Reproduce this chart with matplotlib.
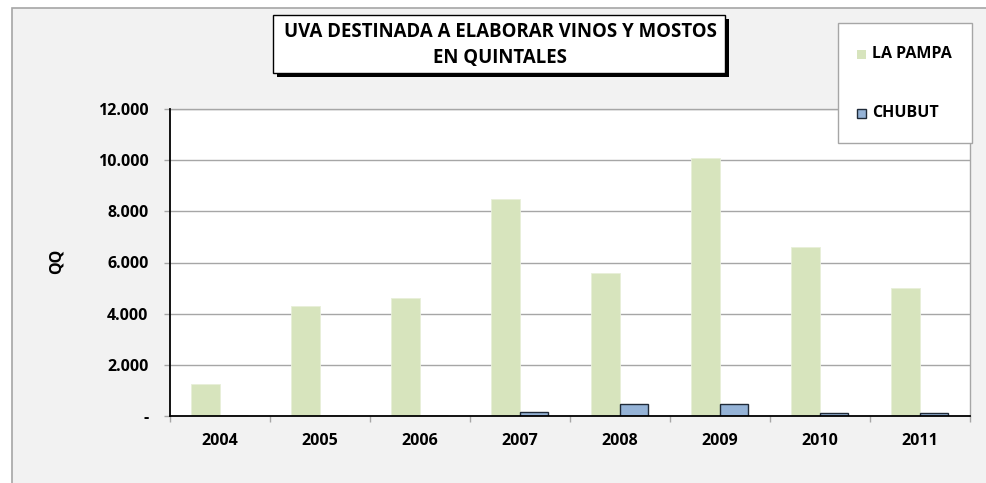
import matplotlib
matplotlib.use("Agg")
import matplotlib.pyplot as plt
from matplotlib.patches import Rectangle
import numpy as np

years = ["2004", "2005", "2006", "2007", "2008", "2009", "2010", "2011"]
la_pampa = [1250, 4300, 4600, 8500, 5600, 10100, 6600, 5000]
chubut = [0, 0, 0, 170, 470, 470, 100, 100]
series_names = ["LA PAMPA", "CHUBUT"]
y_ticks = [0, 2000, 4000, 6000, 8000, 10000, 12000]
y_tick_labels = ["-", "2.000", "4.000", "6.000", "8.000", "10.000", "12.000"]
title_lines = ["UVA DESTINADA A ELABORAR VINOS Y MOSTOS", "EN QUINTALES"]
y_label = "QQ"

W, H = 987, 483
plt.rcParams["font.family"] = ["Open Sans", "DejaVu Sans"]
plt.rcParams["font.weight"] = "bold"

fig = plt.figure(figsize=(W / 100, H / 100), dpi=100)
fig.patch.set_facecolor("white")

# chart area background (pixel coordinates, origin top-left)
bg = fig.add_axes([0, 0, 1, 1], zorder=0)
bg.set_xlim(0, W)
bg.set_ylim(H, 0)
bg.axis("off")
bg.add_patch(Rectangle((12, 8), W + 20, H + 20, facecolor="#f2f2f2",
                       edgecolor="#a6a6a6", linewidth=1.2))

# plot area
px_left, px_top, px_right, px_bottom = 170, 109, 970, 416
ax = fig.add_axes([px_left / W, 1 - px_bottom / H,
                   (px_right - px_left) / W, (px_bottom - px_top) / H], zorder=1)
ax.set_facecolor("white")

x = np.arange(len(years))
bw = 0.285
ax.bar(x - bw / 2, la_pampa, width=bw, color="#d7e4bd", edgecolor="#e8efd9",
       linewidth=0.6, zorder=3)
ax.bar(x + bw / 2, chubut, width=bw, color="#95b3d7", edgecolor="#1f2a38",
       linewidth=1.0, zorder=3)

tick_font = dict(fontsize=11.5, fontweight="bold")
ax.set_xlim(-0.5, len(years) - 0.5)
ax.set_ylim(0, 12000)
ax.set_yticks(y_ticks)
ax.set_yticklabels(y_tick_labels, **tick_font)
ax.yaxis.grid(True, color="#a6a6a6", linewidth=1.0, zorder=0)
ax.set_axisbelow(True)

ax.set_xticks(np.arange(-0.5, len(years), 1.0))
ax.set_xticklabels([])
ax.set_xticks(x, minor=True)
ax.set_xticklabels(years, minor=True, **tick_font)
ax.tick_params(axis="x", which="major", direction="out", length=4, color="#a6a6a6", width=1)
ax.tick_params(axis="x", which="minor", length=0, pad=12)
ax.tick_params(axis="y", direction="out", length=4.5, color="#a6a6a6", width=1, pad=11)

for side in ("top", "right"):
    ax.spines[side].set_color("#a6a6a6")
    ax.spines[side].set_linewidth(1.0)
for side in ("left", "bottom"):
    ax.spines[side].set_color("black")
    ax.spines[side].set_linewidth(1.3)
    ax.spines[side].set_zorder(4)

# overlay for title box, legend and axis title
ov = fig.add_axes([0, 0, 1, 1], zorder=2)
ov.set_xlim(0, W)
ov.set_ylim(H, 0)
ov.axis("off")
ov.patch.set_alpha(0)

tb_x0, tb_y0, tb_x1, tb_y1 = 273, 15, 725, 73
ov.add_patch(Rectangle((tb_x0 + 3.5, tb_y0 + 3.5), tb_x1 - tb_x0, tb_y1 - tb_y0,
                       facecolor="black", edgecolor="none"))
ov.add_patch(Rectangle((tb_x0, tb_y0), tb_x1 - tb_x0, tb_y1 - tb_y0,
                       facecolor="white", edgecolor="black", linewidth=1.0))
cx = (tb_x0 + tb_x1) / 2
ov.text(cx + 1, 32, title_lines[0], ha="center", va="center", fontsize=13.4,
        fontweight="bold")
ov.text(cx + 1, 58, title_lines[1], ha="center", va="center", fontsize=13.4,
        fontweight="bold")

# legend
ov.add_patch(Rectangle((838, 23), 134, 120, facecolor="white",
                       edgecolor="#a6a6a6", linewidth=1.0))
ov.add_patch(Rectangle((857, 50), 9, 9, facecolor="#d7e4bd", edgecolor="none"))
ov.add_patch(Rectangle((857, 109), 9, 9, facecolor="#95b3d7",
                       edgecolor="#1f2a38", linewidth=1.0))
ov.text(872, 54, series_names[0], ha="left", va="center", fontsize=11.5,
        fontweight="bold")
ov.text(872, 113, series_names[1], ha="left", va="center", fontsize=11.5,
        fontweight="bold")

ov.text(57, 261, y_label, ha="center", va="center", rotation=90, fontsize=11.5,
        fontweight="bold")

fig.savefig("out.png", dpi=100, facecolor=fig.get_facecolor())
